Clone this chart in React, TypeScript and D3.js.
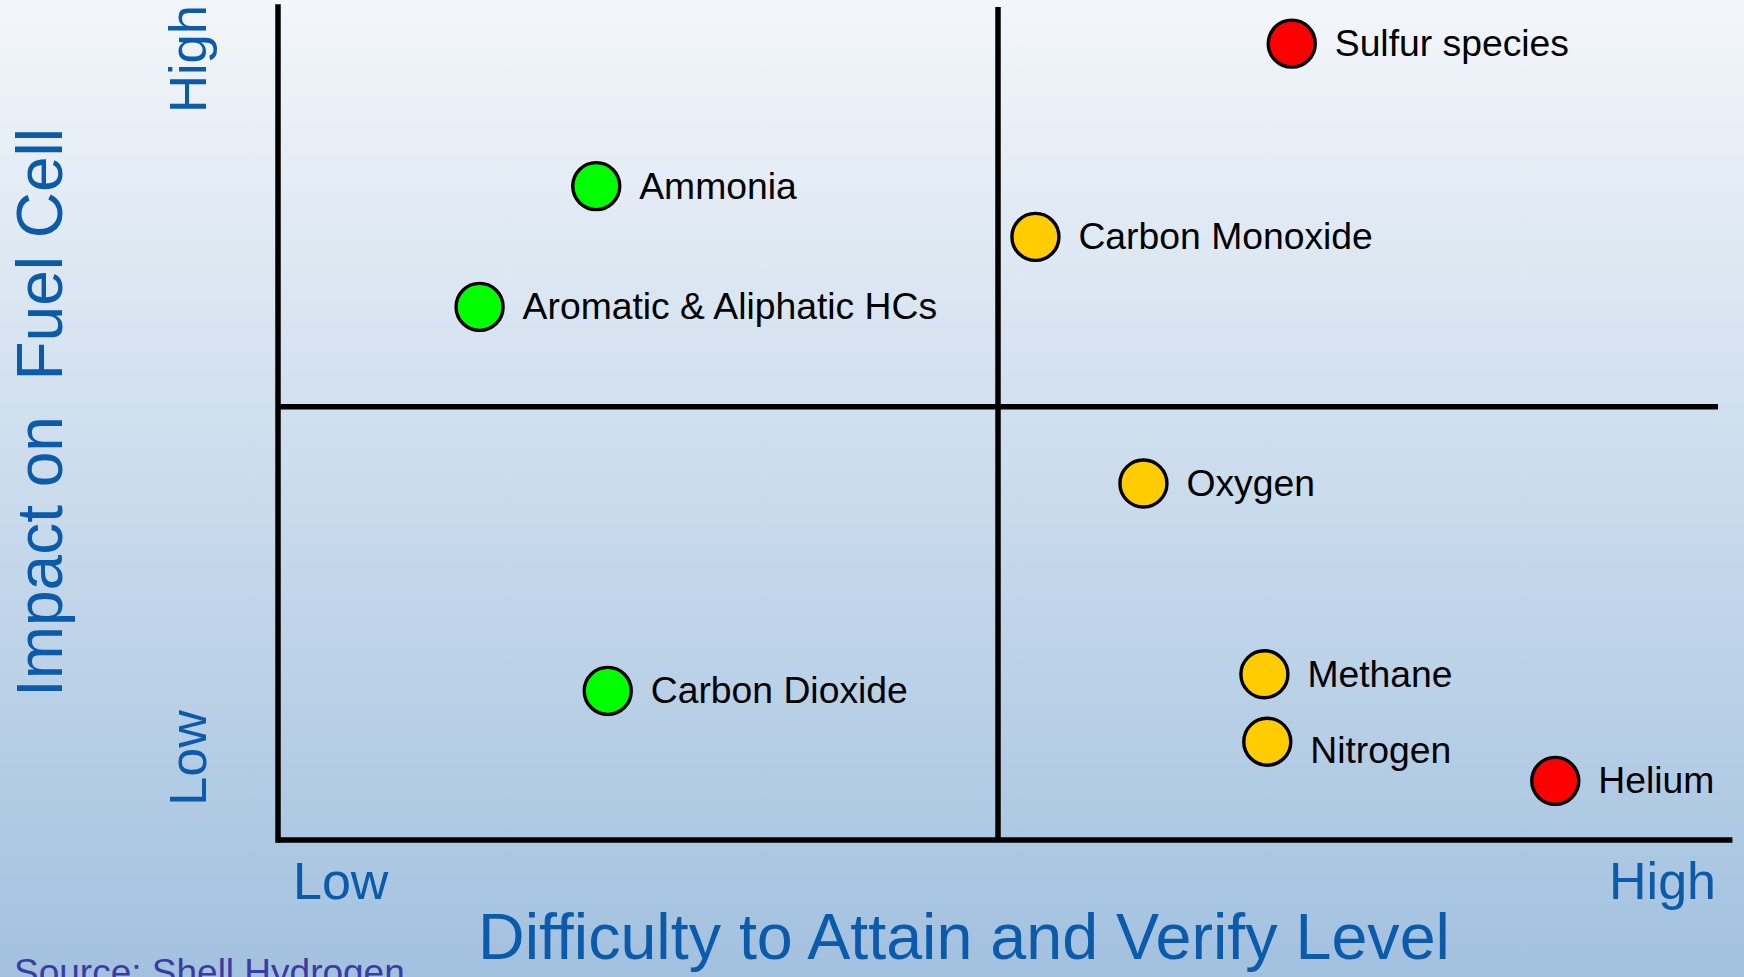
import React from "react";
import * as d3 from "d3";

const W = 1744;
const H = 977;

const names = [
  "Sulfur species",
  "Carbon Monoxide",
  "Ammonia",
  "Aromatic & Aliphatic HCs",
  "Oxygen",
  "Carbon Dioxide",
  "Methane",
  "Nitrogen",
  "Helium",
];
const difficulty = [7.04, 5.26, 2.21, 1.4, 6.01, 2.29, 6.85, 6.87, 8.87];
const impact = [9.56, 7.24, 7.85, 6.4, 4.28, 1.79, 1.99, 1.18, 0.71];
const levels = ["red", "yellow", "green", "green", "yellow", "green", "yellow", "yellow", "red"];
const levelColors: Record<string, string> = { red: "#FF0000", yellow: "#FFCC00", green: "#00FF00" };

const xTickLabels = ["Low", "High"];
const yTickLabels = ["Low", "High"];
const xTitle = "Difficulty to Attain and Verify Level";
const yTitle = "Impact on  Fuel Cell";
const source = "Source: Shell Hydrogen";

const xSplit = 5;
const ySplit = 5.2;
const xAxisEnd = 10.1;

export default function App() {
  const x = d3.scaleLinear().domain([0, 10]).range([278, 1718]);
  const y = d3.scaleLinear().domain([0, 10]).range([840, 7]);
  const blue = "#0B5BAA";
  const font = "'Liberation Sans', Arial, sans-serif";
  const lw = 5.5;
  // Nitrogen's label sits a little lower than its marker in the reference
  const labelShift = (n: string) => (n === "Nitrogen" ? 9 : 0);

  return (
    <svg
      width={W}
      height={H}
      style={{ position: "absolute", left: 0, top: 0, display: "block" }}
      fontFamily={font}
    >
      <defs>
        <linearGradient id="bg" x1="0" y1="0" x2="0" y2="1">
          <stop offset="0" stopColor="#F3F6FA" />
          <stop offset="1" stopColor="#A2C1DF" />
        </linearGradient>
      </defs>
      <rect x={0} y={0} width={W} height={H} fill="url(#bg)" />

      {/* quadrant lines */}
      <line x1={x(0)} y1={y(10)} x2={x(0)} y2={y(0)} stroke="#000" strokeWidth={lw} strokeLinecap="square" />
      <line x1={x(0)} y1={y(0)} x2={x(xAxisEnd)} y2={y(0)} stroke="#000" strokeWidth={lw} strokeLinecap="butt" />
      <line x1={x(xSplit)} y1={y(10)} x2={x(xSplit)} y2={y(0)} stroke="#000" strokeWidth={lw} />
      <line x1={x(0)} y1={y(ySplit)} x2={x(10)} y2={y(ySplit)} stroke="#000" strokeWidth={lw} />

      {/* points */}
      {names.map((n, i) => (
        <g key={n}>
          <circle
            cx={x(difficulty[i])}
            cy={y(impact[i])}
            r={23.5}
            fill={levelColors[levels[i]]}
            stroke="#000"
            strokeWidth={3.4}
          />
          <text
            x={x(difficulty[i]) + 43}
            y={y(impact[i]) + 12.5 + labelShift(n)}
            fontSize={37.3}
            fill="#000"
          >
            {n}
          </text>
        </g>
      ))}

      {/* x tick labels */}
      <text x={293} y={899} fontSize={52} fill={blue}>{xTickLabels[0]}</text>
      <text x={1716} y={899} fontSize={52} fill={blue} textAnchor="end">{xTickLabels[1]}</text>

      {/* y tick labels */}
      <text transform="translate(206,758) rotate(-90)" fontSize={52} fill={blue} textAnchor="middle">
        {yTickLabels[0]}
      </text>
      <text transform="translate(206,59) rotate(-90)" fontSize={52.5} fill={blue} textAnchor="middle">
        {yTickLabels[1]}
      </text>

      {/* titles */}
      <text x={964} y={959} fontSize={64.6} fill={blue} textAnchor="middle">{xTitle}</text>
      <text
        transform="translate(62,412.5) rotate(-90)"
        fontSize={64}
        fill={blue}
        textAnchor="middle"
        style={{ whiteSpace: "pre" }}
      >
        {yTitle}
      </text>

      <text x={14} y={985} fontSize={37} fill="#3B3BA3">{source}</text>
    </svg>
  );
}
